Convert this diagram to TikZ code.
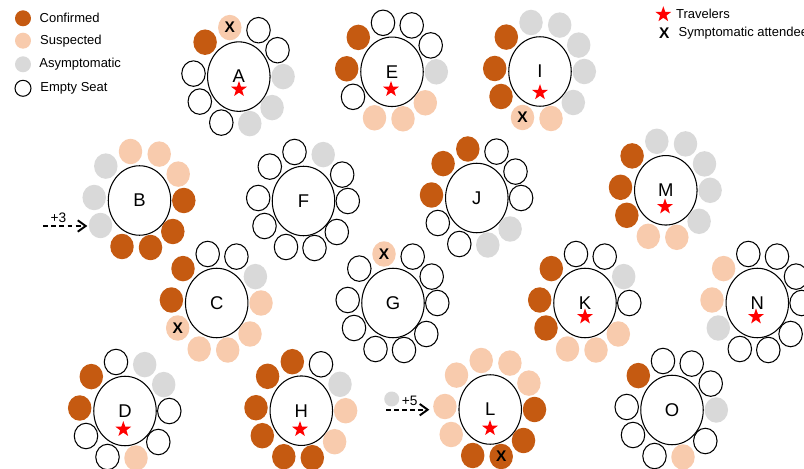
\documentclass[tikz,border=0pt]{standalone}
\usepackage{fontspec}
\setmainfont{Liberation Sans}
\usetikzlibrary{calc}
\usetikzlibrary{shapes.geometric}
\usetikzlibrary{arrows.meta}

\definecolor{confcol}{RGB}{197,90,17}
\definecolor{suspcol}{RGB}{248,203,173}
\definecolor{asymcol}{RGB}{217,217,217}

\tikzset{
  seat/.style={ellipse, inner sep=0pt, minimum width=0.47cm, minimum height=0.51cm},
  conf/.style={fill=confcol},
  susp/.style={fill=suspcol},
  asym/.style={fill=asymcol},
  empt/.style={draw=black, fill=white, line width=0.6pt},
  xmark/.style={font=\fontsize{8.8}{10}\selectfont\bfseries, inner sep=0pt},
  confx/.style={conf, label={[xmark]center:X}},
  suspx/.style={susp, label={[xmark]center:X}},
  tbl/.style={ellipse, draw=black, line width=0.6pt, fill=white, inner sep=0pt,
    minimum width=1.25cm, minimum height=1.39cm, font=\fontsize{10.5}{12}\selectfont},
  trav/.style={star, star points=5, star point ratio=2.5, fill=red, inner sep=0pt,
    minimum size=0.33cm},
  legdot/.style={circle, inner sep=0pt, minimum size=0.32cm},
  legtext/.style={anchor=west, inner sep=0pt, font=\fontsize{7.4}{9}\selectfont},
  inflow/.style={line width=1.1pt, dash pattern=on 2.8pt off 1.8pt,
    -{Straight Barb[length=4.5pt, width=6.5pt]}},
  inlabel/.style={inner sep=0pt, font=\fontsize{7.8}{9}\selectfont}
}

% one round table with its ten seats, clockwise from the top
\newcommand{\seatround}[3]{%
  \node[tbl] (#1) at (#2) {#1};
  \foreach \s [count=\i] in {#3} {
    \pgfmathsetmacro{\dx}{{-9,19.7,38.7,44.3,33.3,11,-17.5,-39,-45.3,-33.7}[\i-1]}
    \pgfmathsetmacro{\dy}{{-49,-46.4,-26.4,0,31,47,46,25,-3,-34.4}[\i-1]}
    \node[seat, \s] (#1-\i) at ($(#1)+(\dx,\dy)$) {};
  }
}

\begin{document}
\begin{tikzpicture}[x=0.02cm, y=-0.02cm]
    \useasboundingbox (0,0) rectangle (804,469);
    \clip (0,0) rectangle (804,469);

    % legend
    \node[legdot, conf] (lconf) at (23,18.3) {};
    \node[legtext] (lconf-t) at (39.3,18.3) {Confirmed};
    \node[legdot, susp] (lsusp) at (23,40.7) {};
    \node[legtext] (lsusp-t) at (39.8,40.7) {Suspected};
    \node[legdot, asym] (lasym) at (23,64.3) {};
    \node[legtext] (lasym-t) at (39,64.3) {Asymptomatic};
    \node[legdot, empt] (lempt) at (23,88.3) {};
    \node[legtext] (lempt-t) at (40,88.3) {Empty Seat};

    \node[trav] (ltrav) at (663.3,14.5) {};
    \node[legtext] (ltrav-t) at (675.7,14) {Travelers};
    \node[xmark] (lx) at (664.3,33.3) {X};
    \node[legtext] (lx-t) at (678.3,33.3) {Symptomatic attendee};

    % tables
    \seatround{A}{238.8,76.6}{suspx,empt,empt,asym,asym,asym,empt,empt,empt,conf}
    \seatround{E}{392,71.8}{empt,empt,empt,asym,susp,susp,susp,empt,conf,conf}
    \seatround{I}{540,71.5}{asym,asym,asym,asym,asym,susp,suspx,conf,conf,conf}
    \seatround{B}{139.5,200.5}{susp,susp,susp,conf,conf,conf,conf,asym,asym,asym}
    \seatround{F}{303.5,201}{empt,asym,empt,empt,empt,empt,empt,empt,empt,empt}
    \seatround{J}{476.8,198}{conf,empt,empt,empt,asym,asym,empt,empt,conf,conf}
    \seatround{M}{665.8,190.3}{asym,asym,asym,asym,asym,susp,susp,conf,conf,conf}
    \seatround{C}{216.7,303}{empt,empt,asym,susp,susp,susp,susp,suspx,conf,conf}
    \seatround{G}{393,303}{suspx,empt,empt,empt,empt,empt,empt,empt,empt,empt}
    \seatround{K}{585,303}{empt,empt,asym,empt,susp,susp,susp,conf,conf,conf}
    \seatround{N}{757.3,303}{empt,empt,empt,empt,empt,empt,empt,asym,susp,susp}
    \seatround{D}{125,411}{empt,asym,asym,empt,empt,susp,empt,empt,conf,conf}
    \seatround{H}{301.3,410.7}{conf,empt,asym,susp,susp,conf,conf,conf,conf,conf}
    \seatround{L}{490.2,409.5}{susp,susp,susp,conf,conf,confx,conf,susp,susp,susp}
    \seatround{O}{672,410}{empt,empt,empt,asym,empt,susp,empt,empt,empt,conf}

    % travelers
    \node[trav] (A-star) at (239,89.3) {};
    \node[trav] (E-star) at (391,89.3) {};
    \node[trav] (I-star) at (540,92.5) {};
    \node[trav] (M-star) at (665,206.7) {};
    \node[trav] (K-star) at (585,316.7) {};
    \node[trav] (N-star) at (756,316.7) {};
    \node[trav] (D-star) at (123.3,429.3) {};
    \node[trav] (H-star) at (300,429.3) {};
    \node[trav] (L-star) at (490,428.3) {};

    % extra attendees
    \coordinate (in3s) at (43.3,226);
    \coordinate (in3e) at (87.3,226);
    \draw[inflow] (in3s) -- (in3e);
    \node[inlabel] (in3) at (58.5,217.3) {+3};

    \node[legdot, asym, minimum size=0.3cm] (in5dot) at (391.7,399) {};
    \coordinate (in5s) at (386,409.7);
    \coordinate (in5e) at (429.3,409.7);
    \draw[inflow] (in5s) -- (in5e);
    \node[inlabel] (in5) at (409.7,400.5) {+5};
\end{tikzpicture}
\end{document}
